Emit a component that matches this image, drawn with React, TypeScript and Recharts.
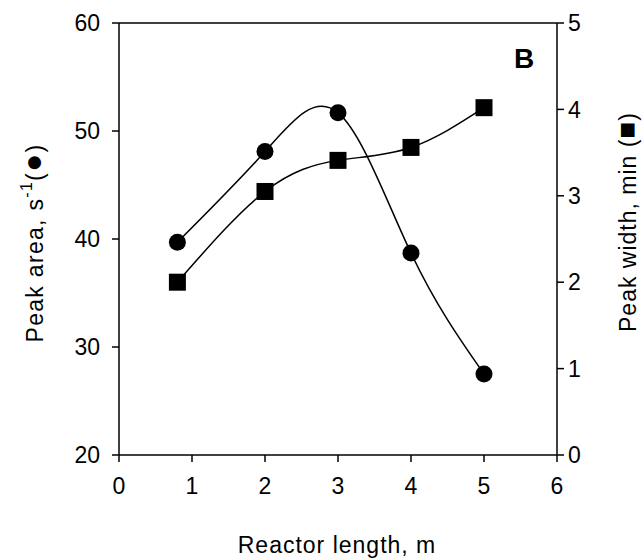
import React from "react";
import { LineChart, Line, XAxis, YAxis, ReferenceLine } from "recharts";

const lengths = [0.8, 2, 3, 4, 5];
const peakArea = [39.7, 48.1, 51.7, 38.7, 27.5];
const peakWidth = [2.0, 3.05, 3.41, 3.56, 4.02];
const xTicks = [0, 1, 2, 3, 4, 5, 6];
const areaTicks = [20, 30, 40, 50, 60];
const widthTicks = [0, 1, 2, 3, 4, 5];

const rows = lengths.map((x, i) => ({ x, area: peakArea[i], width: peakWidth[i] }));

const FONT = "Arial, 'Liberation Sans', Helvetica, sans-serif";
const tickStyle = { fill: "#000", fontSize: 23, fontFamily: FONT };

const CircleDot = (p: any) => <circle key={`c${p.index}`} cx={p.cx} cy={p.cy} r={8.5} fill="#000" />;
const SquareDot = (p: any) => (
  <rect key={`s${p.index}`} x={p.cx - 8.5} y={p.cy - 8.5} width={17} height={17} fill="#000" />
);

export default function App() {
  return (
    <div style={{ position: "absolute", left: 0, top: 0, background: "#fff" }}>
      <LineChart width={643} height={559} data={rows} margin={{ top: 23, right: 0, bottom: 0, left: 0 }}>
        <XAxis
          dataKey="x"
          type="number"
          domain={[0, 6]}
          ticks={xTicks}
          height={104}
          tick={tickStyle}
          tickSize={7}
          tickMargin={16}
          stroke="#000"
          strokeWidth={1.5}
        />
        <XAxis xAxisId="top" orientation="top" type="number" domain={[0, 6]} height={0} tick={false} tickLine={false} stroke="#000" strokeWidth={1.5} />
        <YAxis
          yAxisId="left"
          domain={[20, 60]}
          ticks={areaTicks}
          width={119}
          tick={tickStyle}
          tickSize={7}
          tickMargin={12}
          stroke="#000"
          strokeWidth={1.5}
        />
        <YAxis
          yAxisId="right"
          orientation="right"
          domain={[0, 5]}
          ticks={widthTicks}
          width={86}
          tick={tickStyle}
          tickSize={7}
          tickMargin={4}
          stroke="#000"
          strokeWidth={1.5}
        />
        <ReferenceLine yAxisId="left" y={60} stroke="#000" strokeWidth={1.5} />
        <Line
          yAxisId="left"
          dataKey="area"
          type="natural"
          stroke="#000"
          strokeWidth={1.5}
          dot={CircleDot}
          isAnimationActive={false}
        />
        <Line
          yAxisId="right"
          dataKey="width"
          type="natural"
          stroke="#000"
          strokeWidth={1.5}
          dot={SquareDot}
          isAnimationActive={false}
        />
        <text x={524} y={68} textAnchor="middle" fontSize={28} fontWeight="bold" fontFamily={FONT} fill="#000">
          B
        </text>
        <text
          x={43}
          y={243}
          transform="rotate(-90 43 243)"
          textAnchor="middle"
          fontSize={23}
          fontFamily={FONT}
          letterSpacing={1.3}
          fill="#000"
        >
          Peak area, s
          <tspan fontSize={16} dy={-11}>-1</tspan>
          <tspan dy={11}>(</tspan>
          <tspan fontSize={30}>●</tspan>
          <tspan>)</tspan>
        </text>
        <text
          x={636}
          y={222}
          transform="rotate(-90 636 222)"
          textAnchor="middle"
          fontSize={23}
          fontFamily={FONT}
          letterSpacing={1}
          fill="#000"
        >
          Peak width, min (<tspan fontSize={28}>■</tspan>)
        </text>
        <text x={337} y={553} textAnchor="middle" fontSize={23} fontFamily={FONT} letterSpacing={1} fill="#000">
          Reactor length, m
        </text>
      </LineChart>
    </div>
  );
}
